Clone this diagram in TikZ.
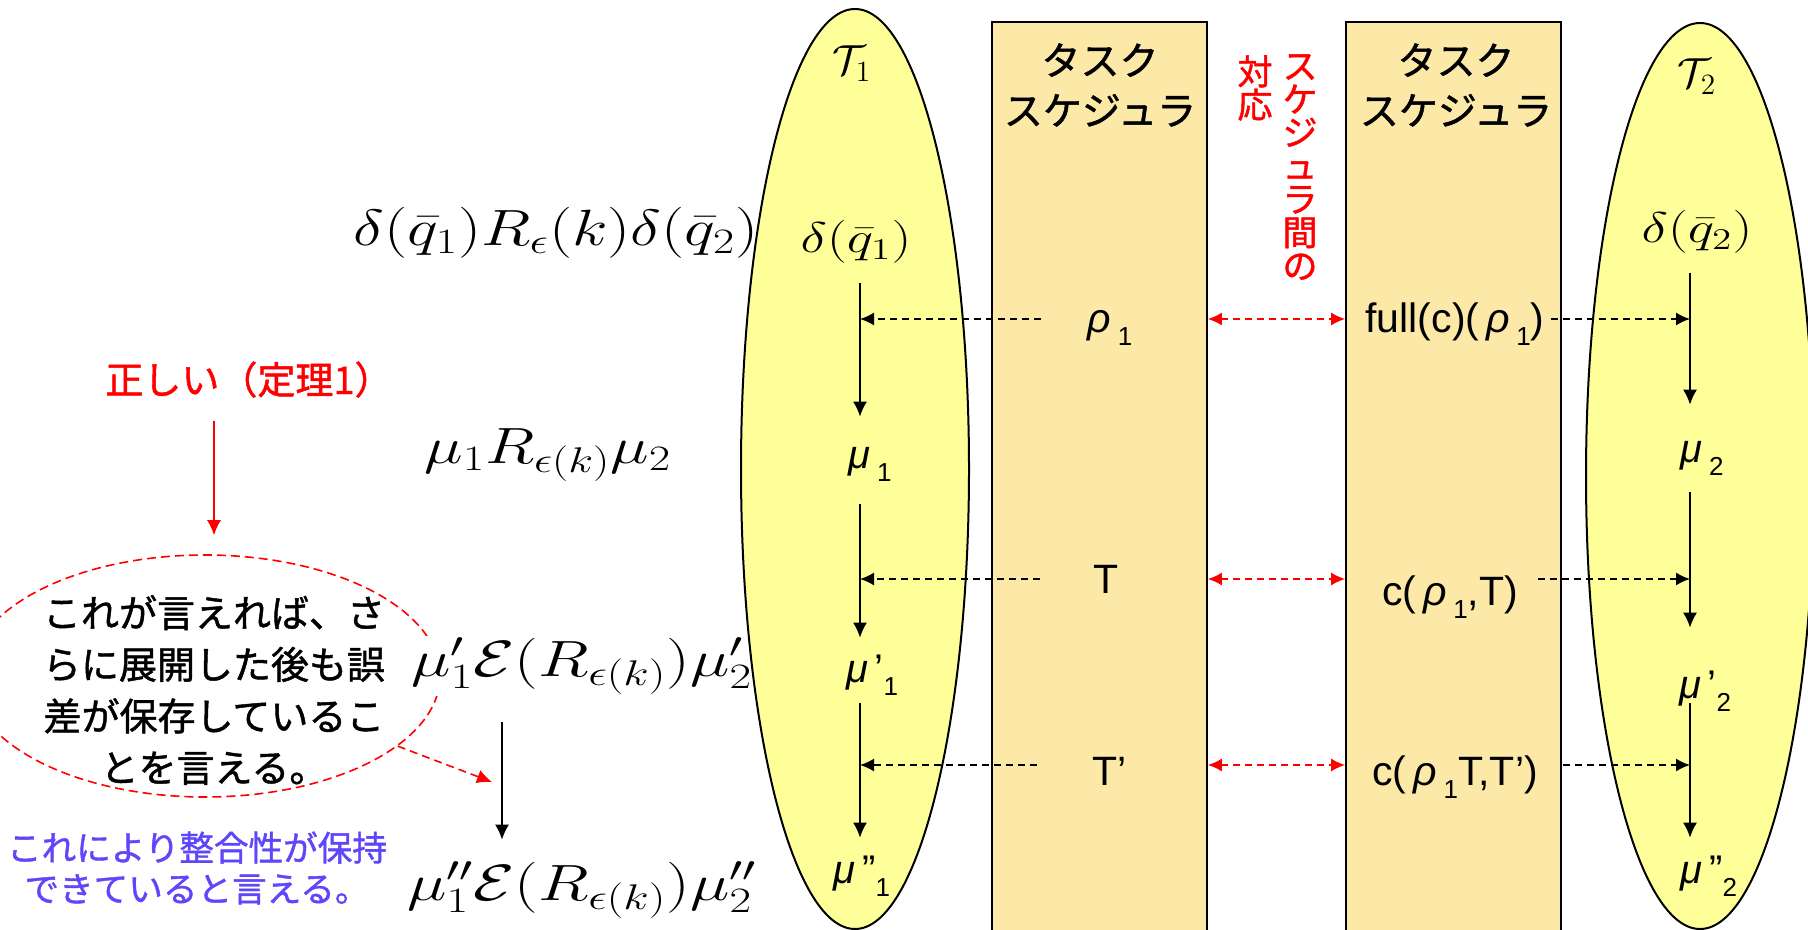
\documentclass[tikz,border=0pt]{standalone}
\usepackage{fix-cm}
\usepackage[no-math]{fontspec}
\setmainfont{Liberation Sans}
\newfontfamily\jp[FakeBold=1.2]{Noto Sans CJK JP}
\usepackage{graphicx}
\usetikzlibrary{shapes.geometric,arrows.meta}
\definecolor{ellfill}{RGB}{255,255,153}
\definecolor{boxfill}{RGB}{252,233,168}
\definecolor{noteblue}{RGB}{95,70,250}
\newcommand\lsub[1]{\raisebox{-6.5pt}{\fontsize{13}{13}\selectfont #1}}
\newcommand\gk[1]{{\itshape #1}}
\begin{document}
\begin{tikzpicture}[x=0.5pt,y=-0.5pt,
  ell/.style={ellipse,draw=black,line width=1pt,fill=ellfill,inner sep=0pt,minimum width=114pt},
  schbox/.style={rectangle,draw=black,line width=0.9pt,fill=boxfill,inner sep=0pt,minimum width=107.5pt,minimum height=470pt,anchor=north},
  btitle/.style={align=center,font=\jp\fontsize{19.5}{25}\selectfont,inner sep=0pt},
  blab/.style={anchor=base,inner sep=0pt,font=\fontsize{20.5}{24}\selectfont},
  elab/.style={anchor=base,inner sep=0pt,text height=15pt,text depth=5pt,font=\fontsize{20}{24}\selectfont},
  emath/.style={anchor=base,inner sep=0pt,text height=15pt,text depth=5pt,font=\fontsize{21.5}{24}\selectfont},
  fml/.style={anchor=base,inner sep=0pt,text height=20pt,text depth=10pt,font=\fontsize{25.5}{30}\selectfont},
  arr/.style={line width=0.75pt,-{Latex[length=7.5pt,width=7pt]}},
  darr/.style={line width=0.75pt,dash pattern=on 3.5pt off 2.5pt,-{Latex[length=7pt,width=6.5pt]}},
  rarr/.style={red,line width=0.75pt,dash pattern=on 3.5pt off 2.5pt,{Latex[length=7pt,width=6.5pt]}-{Latex[length=7pt,width=6.5pt]}},
  rsolid/.style={red,line width=0.75pt,-{Latex[length=7.5pt,width=7pt]}},
  rdash/.style={red,line width=0.8pt,dash pattern=on 4pt off 2.5pt,-{Latex[length=7.5pt,width=7pt]}},
]
\useasboundingbox (0,0) rectangle (1808,930);
\clip (0,0) rectangle (1808,930);

% helper coordinates
\coordinate (XL) at (860,0);
\coordinate (XR) at (1690,0);
\coordinate (XA) at (502,0);
\coordinate (XO) at (214,0);
\coordinate (L1) at (860,319);
\coordinate (L2) at (860,579);
\coordinate (L3) at (860,765);
\coordinate (R1) at (1690,319);
\coordinate (R2) at (1690,579);
\coordinate (R3) at (1690,765);
\coordinate (NA) at (492,782);

% left note ellipse
\node[ellipse,draw=red,line width=0.8pt,dash pattern=on 4.5pt off 2.5pt,inner sep=0pt,minimum width=235pt,minimum height=121pt] (note) at (205,676) {};

% left formulas
\node[fml] (F1) at (556,246) {\scalebox{1.28}[1]{$\delta(\bar q_1)R_\epsilon(k)\delta(\bar q_2)$}};
\node[fml] (F2) at (548,463) {\scalebox{1.28}[1]{$\mu_1R_{\epsilon(k)}\mu_2$}};
\node[fml,fill=white] (F3) at (582,676) {\scalebox{1.31}[1]{$\mu'_1\mathcal{E}(R_{\epsilon(k)})\mu'_2$}};
\node[fml] (F4) at (582,900) {\scalebox{1.31}[1]{$\mu''_1\mathcal{E}(R_{\epsilon(k)})\mu''_2$}};

% ellipses and boxes
\node[ell,minimum height=460pt] (E1) at (855,469) {};
\node[ell,minimum height=453pt] (E2) at (1700,476) {};
\node[schbox] (B1) at (1099.5,21) {};
\node[schbox] (B2) at (1453.5,21) {};

% box titles
\node[btitle] (B1t) at (1100,85) {タスク\\スケジュラ};
\node[btitle] (B2t) at (1456,85) {タスク\\スケジュラ};

% red vertical text
\node[red,align=center,inner sep=0pt,font=\jp\fontsize{17.5}{16.65}\selectfont] (V1) at (1300,167) {ス\\ケ\\ジ\\ュ\\ラ\\間\\の};
\node[red,align=center,inner sep=0pt,font=\jp\fontsize{17.5}{16.65}\selectfont] (V2) at (1255,88) {対\\応};

% ellipse labels
\node[anchor=base,inner sep=0pt,font=\fontsize{21}{24}\selectfont] (T1) at (852,75) {$\mathcal{T}_1$};
\node[anchor=base,inner sep=0pt,font=\fontsize{21}{24}\selectfont] (T2) at (1697,88) {$\mathcal{T}_2$};
\node[emath] (d1) at (856,253) {\scalebox{1.3}[1]{$\delta(\bar q_1)$}};
\node[emath] (d2) at (1697,243) {\scalebox{1.3}[1]{$\delta(\bar q_2)$}};
\node[elab] (m1) at (870,468) {\gk{μ}\,\lsub{1}};
\node[elab] (m1p) at (872,682) {\gk{μ}\,’\lsub{1}};
\node[elab] (m1pp) at (862,883) {\gk{μ}\,”\lsub{1}};
\node[elab] (m2) at (1702,462) {\gk{μ}\,\lsub{2}};
\node[elab] (m2p) at (1705,698) {\gk{μ}\,’\lsub{2}};
\node[elab] (m2pp) at (1709,883) {\gk{μ}\,”\lsub{2}};

% box labels
\node[blab] (rho) at (1110,333) {\gk{ρ}\,\lsub{1}};
\node[blab] (tT) at (1106,593) {T};
\node[blab] (tTp) at (1110,785) {T’};
\node[blab] (full) at (1455,333) {full(c)(\,\gk{ρ}\,\lsub{1})};
\node[blab] (c1) at (1450,605) {c(\,\gk{ρ}\,\lsub{1},T)};
\node[blab] (c2) at (1455,785) {c(\,\gk{ρ}\,\lsub{1}T,T’)};

% vertical arrows in ellipses
\draw[arr,shorten <=10pt,shorten >=10.5pt] (d1.south -| XL) -- (m1.north -| XL);
\draw[arr,shorten <=13pt,shorten >=7pt] (m1.south -| XL) -- (m1p.north -| XL);
\draw[arr,shorten <=5.5pt,shorten >=7.5pt] (m1p.south -| XL) -- (m1pp.north -| XL);
\draw[arr,shorten <=10pt,shorten >=13.5pt] (d2.south -| XR) -- (m2.north -| XR);
\draw[arr,shorten <=10pt,shorten >=20pt] (m2.south -| XR) -- (m2p.north -| XR);
\draw[arr,shorten <=-2.5pt,shorten >=7.5pt] (m2p.south -| XR) -- (m2pp.north -| XR);

% dashed arrows from schedulers
\draw[darr,shorten <=23pt] (rho.west |- L1) -- (L1);
\draw[darr,shorten <=26.5pt] (tT.west |- L2) -- (L2);
\draw[darr,shorten <=28pt] (tTp.west |- L3) -- (L3);
\draw[darr,shorten <=3pt] (full.east |- R1) -- (R1);
\draw[darr,shorten <=10pt] (c1.east |- R2) -- (R2);
\draw[darr,shorten <=12.5pt] (c2.east |- R3) -- (R3);

% red correspondences
\draw[rarr] (B1.east |- L1) -- (B2.west |- L1);
\draw[rarr] (B1.east |- L2) -- (B2.west |- L2);
\draw[rarr] (B1.east |- L3) -- (B2.west |- L3);

% left annotations
\node[red,inner sep=0pt,text height=14pt,text depth=4pt,font=\jp\fontsize{19}{20}\selectfont] (ok) at (249,384) {正しい（定理1）};
\draw[rsolid,shorten <=9.5pt,shorten >=9.5pt] (ok.south -| XO) -- (note.north -| XO);
\node[align=center,inner sep=0pt,font=\jp\fontsize{19}{25.8}\selectfont] (notetxt) at (214,690) {これが言えれば、さ\\らに展開した後も誤\\差が保存しているこ\\とを言える。};
\draw[rdash] (note.-20) -- (NA);
\draw[arr,shorten <=13pt,shorten >=10pt] (F3.south -| XA) -- (F4.north -| XA);
\node[noteblue,align=center,inner sep=0pt,font=\jp\fontsize{17.3}{20.5}\selectfont] (blue) at (197,868) {これにより整合性が保持\\できていると言える。};
\end{tikzpicture}
\end{document}
